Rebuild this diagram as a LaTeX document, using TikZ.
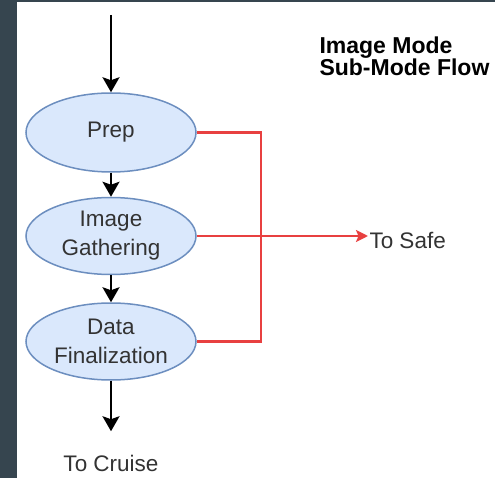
\documentclass[tikz,border=0pt]{standalone}
\usepackage{fontspec}
\setmainfont{Liberation Sans}
\usepackage{xcolor}
\usetikzlibrary{arrows.meta, positioning, shapes.geometric}
\definecolor{panel}{HTML}{36454F}
\definecolor{modefill}{HTML}{DAE8FC}
\definecolor{modeedge}{HTML}{6C8EBF}
\definecolor{safered}{HTML}{E84040}

\begin{document}
\begin{tikzpicture}[x=1pt, y=-1pt, line width=1pt,
    font=\fontsize{22.5}{29}\selectfont,
    mode/.style={ellipse, draw=modeedge, fill=modefill, line width=1.5pt, minimum width=170pt, minimum height=77pt, inner sep=0pt, align=center, text=black!80},
    flow/.style={-{Stealth[length=15pt, width=17pt, inset=3pt]}, line width=2pt},
    safeline/.style={safered, line width=2.5pt}]
  \useasboundingbox (0,0) rectangle (495,478);
  \fill[panel] (0,0) rectangle (17,478);
  \fill[panel] (0,0) rectangle (495,2);
  \node[mode, minimum height=79pt] (prep) at (111,132.5) {Prep};
  \node[mode] (gather) at (111,236) {Image\\Gathering};
  \node[mode] (final) at (111,341.5) {Data\\Finalization};
  \node[inner ysep=23pt, text=black!80] (cruise) at (111,463) {To Cruise};
  \node[anchor=west, inner sep=1pt, text=black!80] (safe) at (368,240) {To Safe};
  \node[anchor=north west, inner sep=0pt, align=left, font=\bfseries\fontsize{23}{20.5}\selectfont] (title) at (319,36) {Image Mode\\Sub-Mode Flow};
  \coordinate (top) at (111,15);
  \coordinate (bus) at (261,0);
  \draw[flow] (top) -- (prep);
  \draw[flow] (prep) -- (gather);
  \draw[flow] (gather) -- (final);
  \draw[flow] (final) -- (cruise);
  \draw[safeline] (prep.east) -- (prep.east -| bus) -- (final.east -| bus) -- (final.east);
  \draw[safeline, -{Stealth[length=12pt, width=12pt, inset=2.5pt]}] (gather.east) -- (gather.east -| safe.west);
\end{tikzpicture}
\end{document}
